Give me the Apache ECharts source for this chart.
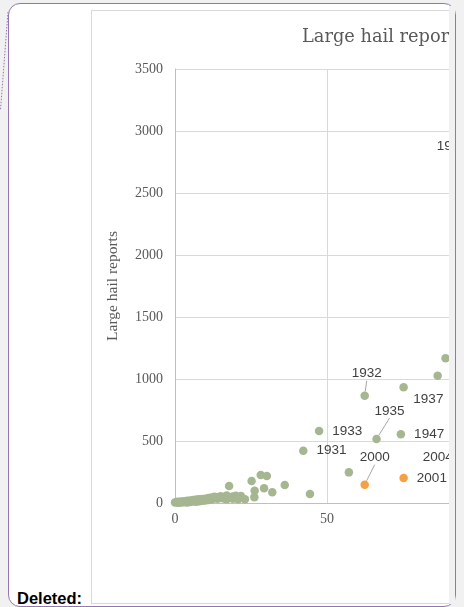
<!DOCTYPE html>
<html><head><meta charset="utf-8">
<script src="https://cdn.jsdelivr.net/npm/echarts@6/dist/echarts.min.js"></script>
<style>
html,body{margin:0;padding:0;width:464px;height:607px;overflow:hidden;background:#f1f1f1;}
#frame{position:absolute;left:8px;top:3px;width:448px;height:604px;border:1.5px solid #9575b2;border-radius:12px;background:#fff;box-sizing:border-box;}
#strip{position:absolute;left:449px;top:6px;width:6px;height:598px;background:#f1f1f1;}
#box{position:absolute;left:91px;top:10px;width:358px;height:594px;border:1px solid #d9d9d9;border-right:none;box-sizing:border-box;overflow:hidden;background:#fff;}
#chart{position:absolute;left:0;top:0;width:600px;height:592px;}
#deleted{position:absolute;left:17px;top:589px;font:bold 16.5px "Liberation Sans",Arial,sans-serif;color:#000;}
#dots{position:absolute;left:0;top:0;}
</style>
</head>
<body>
<svg id="dots" width="12" height="120"><line x1="8" y1="12" x2="0.5" y2="110" stroke="#9575b2" stroke-width="1" stroke-dasharray="1.5,1.5"/></svg>
<div id="frame"></div>
<div id="strip"></div>
<div id="box"><div id="chart"></div></div>
<div id="deleted">Deleted:</div>
<script>
// ---- data ----
const chartTitle = 'Large hail reports';
const yAxisName = 'Large hail reports';
const yTicks = [0, 500, 1000, 1500, 2000, 2500, 3000, 3500];
const xTicks = [0, 50, 100, 150];

// unlabeled green points (x, reports)
const greenX = [0,0.5,1,1,1.5,2,2,2.5,3,3,3.5,4,4,4.5,5,5,5.5,6,6,6.5,7,7,7.5,8,8,8.5,9,9,9.5,10,10,10.5,11,11,11.5,12,12,13,13,14,14,15,15,16,16,17,17,18,19,19,20,20,
  17.8,21.7,20.8,23,26.1,25.2,28.2,30.2,29.3,26.2,32.0,36.1,44.4,57.2,86.4,89.0];
const greenY = [5,8,3,10,6,12,4,9,15,7,11,18,5,14,20,9,16,24,12,19,28,10,22,30,15,25,33,18,27,35,20,30,40,24,32,44,28,38,50,34,46,40,55,36,48,60,30,45,52,35,58,40,
  137,56,30,30,46,177,226,218,118,99,86,145,73,247,1027,1167];

// labelled green points
const greenYears = ['1931','1933','1947','1937','1936'];
const greenLX = [42.2, 47.4, 74.3, 75.2, 100.3];
const greenLY = [422, 581, 554, 933, 2880];
// labelled green points with leader lines
const greenCallYears = ['1932','1935'];
const greenCallX = [62.4, 66.3];
const greenCallY = [865, 516];

// orange points
const orangeYears = ['2001','2004'];
const orangeX = [75.2, 94.4];
const orangeY = [201, 371];
const orangeCallYears = ['2000'];
const orangeCallX = [62.4];
const orangeCallY = [148];

// ---- label placement (style) ----
const labelPos = {
  '1931': {position:'right', offset:[0,0]},
  '1933': {position:'right', offset:[0,0]},
  '1947': {position:'right', offset:[0,0]},
  '1937': {position:'right', offset:[-3.5,12]},
  '1936': {position:'left', offset:[0,0]},
  '2001': {position:'right', offset:[0,0]},
  '2004': {position:'left', offset:[4,0]}
};
const callout = {
  '1932': [2, -22],
  '1935': [13, -28],
  '2000': [10, -27]
};

const GREEN = '#a5b691';
const ORANGE = '#f5a142';
const labelFont = {fontFamily:'"Liberation Sans", Arial, sans-serif', fontSize:13.5, color:'#404040'};

function pts(xs, ys){ return xs.map((x,i)=>[x, ys[i]]); }
function labelled(xs, ys, names){
  return xs.map((x,i)=>({name:names[i], value:[x, ys[i]],
    label:Object.assign({show:true, formatter:names[i], distance:9}, labelFont, labelPos[names[i]])}));
}
function callData(xs, ys, names){
  return xs.map((x,i)=>({name:names[i], value:[x, ys[i]]}));
}
function callLayout(p){
  const o = callout[p.text] || [0,0];
  return {dx:o[0], dy:o[1]};
}
const calloutLabel = Object.assign({show:true, position:'inside', formatter:'{b}'}, labelFont);
const calloutLine = {show:true, lineStyle:{color:'#a6a6a6', width:1}};

const chart = echarts.init(document.getElementById('chart'), null, {renderer:'canvas'});
const serif = '"Liberation Serif", "Times New Roman", serif';
chart.setOption({
  animation:false,
  title:{text:chartTitle, left:205, top:12,
    textStyle:{fontFamily:'"DejaVu Serif", serif', fontSize:17.8, fontWeight:'normal', color:'#595959'}},
  grid:{left:83, top:58, width:456, height:434, containLabel:false},
  xAxis:{type:'value', min:xTicks[0], max:xTicks[xTicks.length-1], interval:50,
    axisLine:{show:true, onZero:false, lineStyle:{color:'#bfbfbf'}},
    axisTick:{show:false},
    axisLabel:{margin:9, fontFamily:serif, fontSize:14, color:'#595959', formatter:v=>String(v)},
    splitLine:{show:true, lineStyle:{color:'#d9d9d9'}}},
  yAxis:{type:'value', min:yTicks[0], max:yTicks[yTicks.length-1], interval:500,
    name:yAxisName, nameLocation:'middle', nameGap:54,
    nameTextStyle:{fontFamily:serif, fontSize:15.5, color:'#595959'},
    axisLine:{show:true, onZero:false, lineStyle:{color:'#bfbfbf'}},
    axisTick:{show:false},
    axisLabel:{margin:12, fontFamily:serif, fontSize:14, color:'#595959', formatter:v=>String(v)},
    splitLine:{show:true, lineStyle:{color:'#d9d9d9'}}},
  series:[
    {type:'scatter', symbolSize:8.5, itemStyle:{color:GREEN, opacity:1}, data:pts(greenX, greenY), z:2},
    {type:'scatter', symbolSize:8.5, itemStyle:{color:GREEN, opacity:1}, data:labelled(greenLX, greenLY, greenYears), z:2},
    {type:'scatter', symbolSize:8.5, itemStyle:{color:GREEN, opacity:1}, data:callData(greenCallX, greenCallY, greenCallYears),
      label:calloutLabel, labelLine:calloutLine, labelLayout:callLayout, z:2},
    {type:'scatter', symbolSize:8.5, itemStyle:{color:ORANGE, opacity:1}, data:labelled(orangeX, orangeY, orangeYears), z:3},
    {type:'scatter', symbolSize:8.5, itemStyle:{color:ORANGE, opacity:1}, data:callData(orangeCallX, orangeCallY, orangeCallYears),
      label:calloutLabel, labelLine:calloutLine, labelLayout:callLayout, z:3}
  ]
});
</script>
</body></html>
